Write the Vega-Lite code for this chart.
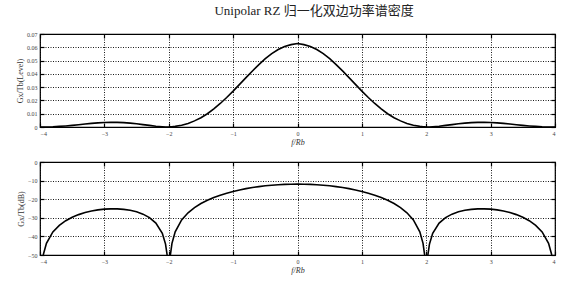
{
  "$schema": "https://vega.github.io/schema/vega-lite/v6.json",
  "background": "white",
  "padding": {"left": 15, "top": 5, "right": 13, "bottom": 2},
  "title": {"text": "Unipolar RZ 归一化双边功率谱密度", "font": "Liberation Serif, Noto Sans CJK SC", "fontSize": 13, "fontWeight": "normal", "color": "#222", "anchor": "middle", "offset": 12, "dx": 28},
  "datasets": {
    "psd": [
      {"f": -4.0, "level": 0, "db": null},
      {"f": -3.95, "level": 0.00001, "db": -50},
      {"f": -3.9, "level": 0.00005, "db": -43.76},
      {"f": -3.8, "level": 0.0002, "db": -37.62},
      {"f": -3.7, "level": 0.0005, "db": -34.05},
      {"f": -3.6, "level": 0.0008, "db": -31.56},
      {"f": -3.5, "level": 0.0012, "db": -29.71},
      {"f": -3.4, "level": 0.0017, "db": -28.29},
      {"f": -3.3, "level": 0.0022, "db": -27.19},
      {"f": -3.2, "level": 0.0027, "db": -26.36},
      {"f": -3.1, "level": 0.0031, "db": -25.76},
      {"f": -3.0, "level": 0.0034, "db": -25.36},
      {"f": -2.9, "level": 0.0035, "db": -25.18},
      {"f": -2.8, "level": 0.0035, "db": -25.2},
      {"f": -2.7, "level": 0.0033, "db": -25.45},
      {"f": -2.6, "level": 0.0029, "db": -25.96},
      {"f": -2.5, "level": 0.0024, "db": -26.79},
      {"f": -2.4, "level": 0.0018, "db": -28.04},
      {"f": -2.3, "level": 0.0012, "db": -29.92},
      {"f": -2.2, "level": 0.0006, "db": -32.87},
      {"f": -2.1, "level": 0.0002, "db": -38.38},
      {"f": -2.05, "level": 0.00003, "db": -44.16},
      {"f": -2.025, "level": 0.00001, "db": -50},
      {"f": -2.0, "level": 0, "db": null},
      {"f": -1.975, "level": 0.0001, "db": -50},
      {"f": -1.95, "level": 0.0002, "db": -43.73},
      {"f": -1.9, "level": 0.0005, "db": -37.51},
      {"f": -1.8, "level": 0.0013, "db": -31.13},
      {"f": -1.7, "level": 0.0027, "db": -27.29},
      {"f": -1.6, "level": 0.0046, "db": -24.52},
      {"f": -1.5, "level": 0.007, "db": -22.35},
      {"f": -1.4, "level": 0.01, "db": -20.59},
      {"f": -1.3, "level": 0.0136, "db": -19.1},
      {"f": -1.2, "level": 0.0177, "db": -17.84},
      {"f": -1.1, "level": 0.0222, "db": -16.76},
      {"f": -1.0, "level": 0.027, "db": -15.82},
      {"f": -0.9, "level": 0.0321, "db": -15.01},
      {"f": -0.8, "level": 0.0372, "db": -14.32},
      {"f": -0.7, "level": 0.0422, "db": -13.73},
      {"f": -0.6, "level": 0.047, "db": -13.23},
      {"f": -0.5, "level": 0.0514, "db": -12.81},
      {"f": -0.4, "level": 0.0552, "db": -12.48},
      {"f": -0.3, "level": 0.0583, "db": -12.22},
      {"f": -0.2, "level": 0.0606, "db": -12.04},
      {"f": -0.1, "level": 0.062, "db": -11.94},
      {"f": 0.0, "level": 0.0628, "db": -11.9},
      {"f": 0.1, "level": 0.062, "db": -11.94},
      {"f": 0.2, "level": 0.0606, "db": -12.04},
      {"f": 0.3, "level": 0.0583, "db": -12.22},
      {"f": 0.4, "level": 0.0552, "db": -12.48},
      {"f": 0.5, "level": 0.0514, "db": -12.81},
      {"f": 0.6, "level": 0.047, "db": -13.23},
      {"f": 0.7, "level": 0.0422, "db": -13.73},
      {"f": 0.8, "level": 0.0372, "db": -14.32},
      {"f": 0.9, "level": 0.0321, "db": -15.01},
      {"f": 1.0, "level": 0.027, "db": -15.82},
      {"f": 1.1, "level": 0.0222, "db": -16.76},
      {"f": 1.2, "level": 0.0177, "db": -17.84},
      {"f": 1.3, "level": 0.0136, "db": -19.1},
      {"f": 1.4, "level": 0.01, "db": -20.59},
      {"f": 1.5, "level": 0.007, "db": -22.35},
      {"f": 1.6, "level": 0.0046, "db": -24.52},
      {"f": 1.7, "level": 0.0027, "db": -27.29},
      {"f": 1.8, "level": 0.0013, "db": -31.13},
      {"f": 1.9, "level": 0.0005, "db": -37.51},
      {"f": 1.95, "level": 0.0002, "db": -43.73},
      {"f": 1.975, "level": 0.0001, "db": -50},
      {"f": 2.0, "level": 0, "db": null},
      {"f": 2.025, "level": 0.00001, "db": -50},
      {"f": 2.05, "level": 0.00003, "db": -44.16},
      {"f": 2.1, "level": 0.0002, "db": -38.38},
      {"f": 2.2, "level": 0.0006, "db": -32.87},
      {"f": 2.3, "level": 0.0012, "db": -29.92},
      {"f": 2.4, "level": 0.0018, "db": -28.04},
      {"f": 2.5, "level": 0.0024, "db": -26.79},
      {"f": 2.6, "level": 0.0029, "db": -25.96},
      {"f": 2.7, "level": 0.0033, "db": -25.45},
      {"f": 2.8, "level": 0.0035, "db": -25.2},
      {"f": 2.9, "level": 0.0035, "db": -25.18},
      {"f": 3.0, "level": 0.0034, "db": -25.36},
      {"f": 3.1, "level": 0.0031, "db": -25.76},
      {"f": 3.2, "level": 0.0027, "db": -26.36},
      {"f": 3.3, "level": 0.0022, "db": -27.19},
      {"f": 3.4, "level": 0.0017, "db": -28.29},
      {"f": 3.5, "level": 0.0012, "db": -29.71},
      {"f": 3.6, "level": 0.0008, "db": -31.56},
      {"f": 3.7, "level": 0.0005, "db": -34.05},
      {"f": 3.8, "level": 0.0002, "db": -37.62},
      {"f": 3.9, "level": 0.00005, "db": -43.76},
      {"f": 3.95, "level": 0.00001, "db": -50},
      {"f": 4.0, "level": 0, "db": null}
    ]
  },
  "data": {"name": "psd"},
  "bounds": "flush",
  "spacing": 35,
  "vconcat": [
    {
      "width": 515,
      "height": 93,
      "layer": [
        {
          "mark": {"type": "line", "color": "black", "strokeWidth": 1.6, "clip": true},
          "encoding": {
            "x": {"field": "f", "type": "quantitative", "scale": {"domain": [-4, 4], "nice": false},
                  "axis": {"values": [-4, -3, -2, -1, 0, 1, 2, 3, 4], "title": "f/Rb", "titleFontStyle": "italic"}},
            "y": {"field": "level", "type": "quantitative", "scale": {"domain": [0, 0.07], "nice": false, "zero": false},
                  "axis": {"values": [0, 0.01, 0.02, 0.03, 0.04, 0.05, 0.06, 0.07], "format": ".2~f", "title": "Gx/Tb(Level)"}}
          }
        },
        {
          "mark": {"type": "line", "opacity": 0},
          "encoding": {
            "x": {"field": "f", "type": "quantitative",
                  "axis": {"orient": "top", "values": [-4, -3, -2, -1, 0, 1, 2, 3, 4], "labels": false, "title": null, "grid": false}},
            "y": {"field": "level", "type": "quantitative",
                  "axis": {"orient": "right", "values": [0, 0.01, 0.02, 0.03, 0.04, 0.05, 0.06, 0.07], "labels": false, "title": null, "grid": false}}
          }
        }
      ],
      "resolve": {"axis": {"x": "independent", "y": "independent"}}
    },
    {
      "width": 515,
      "height": 93,
      "layer": [
        {
          "mark": {"type": "line", "color": "black", "strokeWidth": 1.6, "clip": true, "invalid": "break-paths-filter-domains"},
          "encoding": {
            "x": {"field": "f", "type": "quantitative", "scale": {"domain": [-4, 4], "nice": false},
                  "axis": {"values": [-4, -3, -2, -1, 0, 1, 2, 3, 4], "title": "f/Rb", "titleFontStyle": "italic"}},
            "y": {"field": "db", "type": "quantitative", "scale": {"domain": [-50, 0], "nice": false, "zero": false},
                  "axis": {"values": [-50, -40, -30, -20, -10, 0], "title": "Gx/Tb(dB)"}}
          }
        },
        {
          "mark": {"type": "line", "opacity": 0, "invalid": "break-paths-filter-domains"},
          "encoding": {
            "x": {"field": "f", "type": "quantitative",
                  "axis": {"orient": "top", "values": [-4, -3, -2, -1, 0, 1, 2, 3, 4], "labels": false, "title": null, "grid": false}},
            "y": {"field": "db", "type": "quantitative",
                  "axis": {"orient": "right", "values": [-50, -40, -30, -20, -10, 0], "labels": false, "title": null, "grid": false}}
          }
        }
      ],
      "resolve": {"axis": {"x": "independent", "y": "independent"}}
    }
  ],
  "config": {
    "view": {"stroke": "black", "strokeWidth": 1.2},
    "axis": {
      "domain": false,
      "grid": true,
      "gridColor": "black",
      "gridDash": [1, 1.5],
      "gridOpacity": 0.9,
      "gridWidth": 1,
      "ticks": true,
      "tickSize": -4,
      "tickColor": "black",
      "tickWidth": 1.2,
      "labelFont": "Liberation Serif",
      "labelFontSize": 6,
      "labelColor": "#444",
      "labelPadding": 7,
      "titleFont": "Liberation Serif",
      "titleFontSize": 8,
      "titleFontWeight": "normal",
      "titleColor": "#333",
      "titlePadding": 2
    }
  }
}
